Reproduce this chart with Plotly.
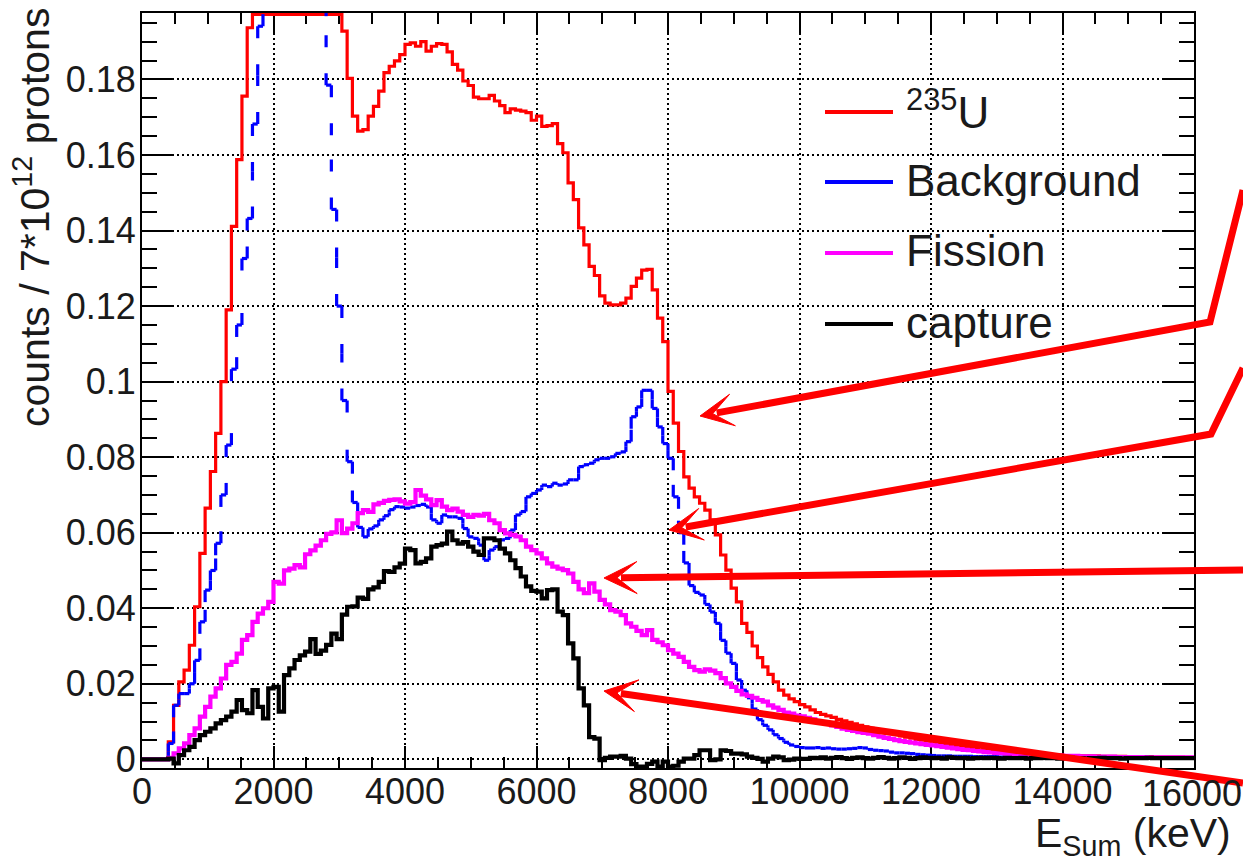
import numpy as np
import plotly.graph_objects as go

# ---------------- data (80 keV bins, 0 - 16000 keV) ----------------
BIN_WIDTH = 80
E_MIN, E_MAX = 0, 16000
Y_MIN, Y_MAX = -0.0023, 0.1976
CLIP_TOP = 0.1972      # bins drawn along the frame top (value beyond range)
OFF_TOP = 0.21         # bins beyond the frame (not visible)
C = CLIP_TOP
H = OFF_TOP

u235 = [
    0, 0, 0, 0, 0, 0.0046, 0.0143, 0.0205, 0.0236, 0.0302,
    0.0404, 0.0545, 0.0665, 0.0762, 0.0863, 0.1000, 0.1190, 0.1411, 0.1588, 0.1756,
    0.1937, C, C, C, C, C, C, C, C, C,
    C, C, C, C, C, C, C, C, 0.1928, 0.1803,
    0.1703, 0.1663, 0.1667, 0.1703, 0.1729, 0.1769, 0.1818, 0.1835, 0.1849, 0.1866,
    0.1893, 0.1897, 0.1888, 0.1900, 0.1875, 0.1888, 0.1895, 0.1893, 0.1873, 0.1840,
    0.1825, 0.1796, 0.1784, 0.1753, 0.1749, 0.1749, 0.1758, 0.1743, 0.1731, 0.1712,
    0.1722, 0.1719, 0.1716, 0.1712, 0.1692, 0.1703, 0.1676, 0.1678, 0.1683, 0.1630,
    0.1606, 0.1526, 0.1482, 0.1407, 0.1362, 0.1305, 0.1281, 0.1227, 0.1208, 0.1203,
    0.1203, 0.1208, 0.1221, 0.1252, 0.1274, 0.1295, 0.1297, 0.1243, 0.1168, 0.1106,
    0.0974, 0.0890, 0.0815, 0.0748, 0.0718, 0.0695, 0.0678, 0.0660, 0.0634, 0.0594,
    0.0541, 0.0501, 0.0453, 0.0417, 0.0360, 0.0336, 0.0300, 0.0269, 0.0245, 0.0225,
    0.0205, 0.0183, 0.0170, 0.0160, 0.0153, 0.0145, 0.0139, 0.0131, 0.0124, 0.0119,
    0.0115, 0.0111, 0.0106, 0.0102, 0.0098, 0.0094, 0.0090, 0.0086, 0.0082, 0.0079,
    0.0075, 0.0072, 0.0069, 0.0066, 0.0062, 0.0059, 0.0056, 0.0053, 0.0051, 0.0048,
    0.0046, 0.0044, 0.0041, 0.0039, 0.0036, 0.0034, 0.0031, 0.0029, 0.0027, 0.0024,
    0.0023, 0.0021, 0.0019, 0.0017, 0.0017, 0.0016, 0.0015, 0.0015, 0.0014, 0.0013,
    0.0013, 0.0012, 0.0012, 0.0011, 0.0011, 0.0010, 0.0010, 0.0010, 0.0009, 0.0009,
    0.0009, 0.0009, 0.0008, 0.0008, 0.0008, 0.0008, 0.0008, 0.0007, 0.0007, 0.0007,
    0.0007, 0.0007, 0.0006, 0.0006, 0.0006, 0.0006, 0.0006, 0.0006, 0.0005, 0.0005,
]

background = [
    0, 0, 0, 0, 0, 0.0042, 0.0143, 0.0174, 0.0174, 0.0200,
    0.0262, 0.0364, 0.0448, 0.0500, 0.0572, 0.0700, 0.0832, 0.1033, 0.1150, 0.1326,
    0.1432, 0.1682, 0.1941, H, H, H, H, H, H, H,
    H, H, H, H, H, 0.1785, 0.1456, 0.1200, 0.0950, 0.0788,
    0.0680, 0.0614, 0.0589, 0.0610, 0.0618, 0.0634, 0.0645, 0.0661, 0.0669, 0.0668,
    0.0665, 0.0668, 0.0672, 0.0675, 0.0668, 0.0634, 0.0625, 0.0647, 0.0642, 0.0642,
    0.0638, 0.0611, 0.0589, 0.0585, 0.0567, 0.0527, 0.0554, 0.0563, 0.0581, 0.0585,
    0.0607, 0.0647, 0.0656, 0.0695, 0.0704, 0.0713, 0.0726, 0.0722, 0.0731, 0.0726,
    0.0729, 0.0740, 0.0740, 0.0775, 0.0780, 0.0784, 0.0793, 0.0797, 0.0797, 0.0801,
    0.0810, 0.0814, 0.0841, 0.0907, 0.0933, 0.0977, 0.0977, 0.0929, 0.0880, 0.0836,
    0.0797, 0.0695, 0.0600, 0.0520, 0.0460, 0.0442, 0.0435, 0.0410, 0.0390, 0.0360,
    0.0315, 0.0281, 0.0254, 0.0210, 0.0183, 0.0163, 0.0133, 0.0105, 0.0090, 0.0078,
    0.0065, 0.0055, 0.0045, 0.0038, 0.0034, 0.0031, 0.0030, 0.0030, 0.0031, 0.0029,
    0.0030, 0.0028, 0.0027, 0.0027, 0.0028, 0.0029, 0.0031, 0.0030, 0.0026, 0.0024,
    0.0023, 0.0022, 0.0019, 0.0017, 0.0017, 0.0016, 0.0015, 0.0013, 0.0012, 0.0011,
    0.0010, 0.0009, 0.0009, 0.0009, 0.0008, 0.0008, 0.0008, 0.0008, 0.0007, 0.0007,
    0.0007, 0.0007, 0.0007, 0.0006, 0.0006, 0.0006, 0.0006, 0.0006, 0.0006, 0.0006,
    0.0005, 0.0005, 0.0005, 0.0005, 0.0005, 0.0005, 0.0005, 0.0005, 0.0005, 0.0005,
    0.0005, 0.0005, 0.0005, 0.0005, 0.0005, 0.0004, 0.0004, 0.0004, 0.0004, 0.0004,
    0.0004, 0.0004, 0.0004, 0.0004, 0.0004, 0.0004, 0.0004, 0.0004, 0.0004, 0.0004,
]

fission = [
    0, 0, 0, 0, 0, 0.0004, 0.0016, 0.0029, 0.0042, 0.0064,
    0.0082, 0.0113, 0.0139, 0.0166, 0.0188, 0.0214, 0.0250, 0.0258, 0.0280, 0.0316,
    0.0329, 0.0364, 0.0386, 0.0400, 0.0417, 0.0470, 0.0465, 0.0500, 0.0505, 0.0514,
    0.0508, 0.0543, 0.0553, 0.0566, 0.0580, 0.0597, 0.0601, 0.0633, 0.0599, 0.0611,
    0.0625, 0.0652, 0.0660, 0.0655, 0.0675, 0.0679, 0.0684, 0.0687, 0.0688, 0.0683,
    0.0677, 0.0681, 0.0713, 0.0698, 0.0688, 0.0673, 0.0686, 0.0669, 0.0660, 0.0664,
    0.0656, 0.0647, 0.0642, 0.0647, 0.0645, 0.0650, 0.0633, 0.0625, 0.0607, 0.0598,
    0.0594, 0.0590, 0.0580, 0.0563, 0.0554, 0.0545, 0.0532, 0.0519, 0.0510, 0.0505,
    0.0501, 0.0492, 0.0470, 0.0450, 0.0440, 0.0466, 0.0444, 0.0422, 0.0410, 0.0395,
    0.0391, 0.0382, 0.0360, 0.0351, 0.0340, 0.0329, 0.0342, 0.0316, 0.0310, 0.0302,
    0.0289, 0.0280, 0.0271, 0.0258, 0.0245, 0.0236, 0.0232, 0.0238, 0.0235, 0.0228,
    0.0215, 0.0201, 0.0192, 0.0181, 0.0172, 0.0168, 0.0163, 0.0157, 0.0153, 0.0143,
    0.0137, 0.0131, 0.0124, 0.0121, 0.0116, 0.0114, 0.0110, 0.0106, 0.0101, 0.0097,
    0.0094, 0.0090, 0.0086, 0.0081, 0.0078, 0.0075, 0.0072, 0.0070, 0.0068, 0.0064,
    0.0060, 0.0057, 0.0054, 0.0051, 0.0048, 0.0046, 0.0044, 0.0042, 0.0040, 0.0038,
    0.0037, 0.0035, 0.0033, 0.0031, 0.0029, 0.0027, 0.0025, 0.0024, 0.0022, 0.0021,
    0.0019, 0.0018, 0.0017, 0.0016, 0.0015, 0.0014, 0.0013, 0.0013, 0.0012, 0.0012,
    0.0011, 0.0011, 0.0010, 0.0010, 0.0010, 0.0009, 0.0009, 0.0009, 0.0008, 0.0008,
    0.0008, 0.0007, 0.0007, 0.0007, 0.0007, 0.0006, 0.0006, 0.0006, 0.0006, 0.0006,
    0.0006, 0.0005, 0.0005, 0.0005, 0.0005, 0.0005, 0.0005, 0.0005, 0.0005, 0.0005,
]

capture = [
    0, 0, 0, 0, 0, 0.0002, -0.0011, 0.0011, 0.0024, 0.0033,
    0.0051, 0.0064, 0.0073, 0.0082, 0.0095, 0.0104, 0.0113, 0.0126, 0.0157, 0.0130,
    0.0122, 0.0183, 0.0139, 0.0108, 0.0188, 0.0192, 0.0126, 0.0223, 0.0241, 0.0263,
    0.0275, 0.0285, 0.0318, 0.0279, 0.0288, 0.0303, 0.0333, 0.0318, 0.0383, 0.0404,
    0.0405, 0.0428, 0.0425, 0.0450, 0.0455, 0.0470, 0.0498, 0.0496, 0.0508, 0.0518,
    0.0558, 0.0554, 0.0519, 0.0523, 0.0532, 0.0563, 0.0567, 0.0571, 0.0603, 0.0580,
    0.0571, 0.0575, 0.0563, 0.0550, 0.0541, 0.0585, 0.0585, 0.0580, 0.0558, 0.0545,
    0.0527, 0.0506, 0.0484, 0.0458, 0.0446, 0.0444, 0.0426, 0.0448, 0.0450, 0.0391,
    0.0382, 0.0307, 0.0267, 0.0188, 0.0143, 0.0059, 0.0055, -0.0002, 0.0004, 0.0007,
    0.0007, 0.0009, 0.0002, -0.0013, -0.0019, -0.0019, -0.0012, -0.0006, -0.0019, -0.0006,
    -0.0019, -0.0017, -0.0006, 0.0002, 0.0002, 0.0011, 0.0024, 0.0024, -0.0002, 0.0000,
    0.0024, 0.0022, 0.0015, 0.0015, 0.0013, 0.0007, 0.0004, 0.0001, -0.0006, 0.0002,
    0.0007, 0.0005, -0.0002, -0.0001, 0.0002, 0.0001, 0.0001, 0.0004, 0.0003, 0.0005,
    0.0002, 0.0004, 0.0006, 0.0003, 0.0001, 0.0004, 0.0005, 0.0003, 0.0002, 0.0004,
    0.0006, 0.0004, 0.0002, 0.0003, 0.0005, 0.0004, 0.0001, 0.0003, 0.0005, 0.0004,
    0.0003, 0.0004, 0.0002, 0.0005, 0.0004, 0.0003, 0.0004, 0.0002, 0.0003, 0.0004,
    0.0003, 0.0004, 0.0003, 0.0002, 0.0004, 0.0003, 0.0003, 0.0004, 0.0002, 0.0003,
    0.0003, 0.0004, 0.0003, 0.0003, 0.0002, 0.0003, 0.0004, 0.0003, 0.0003, 0.0002,
    0.0003, 0.0003, 0.0004, 0.0003, 0.0003, 0.0003, 0.0002, 0.0003, 0.0003, 0.0003,
    0.0003, 0.0004, 0.0003, 0.0003, 0.0003, 0.0003, 0.0003, 0.0003, 0.0003, 0.0003,
]

series_names = ["<sup>235</sup>U", "Background", "Fission", "capture"]
series_colors = ["#ff0000", "#0000ff", "#ff00ff", "#000000"]
series_widths = [3.2, 3.2, 4.2, 4.2]

# tick labels (the last one, at the figure edge, is drawn as a separate text)
x_tickvals = [0, 2000, 4000, 6000, 8000, 10000, 12000, 14000]
x_ticktext = ["0", "2000", "4000", "6000", "8000", "10000", "12000", "14000"]
x_last_tick = (16000, "16000")
y_tickvals = [0, 0.02, 0.04, 0.06, 0.08, 0.10, 0.12, 0.14, 0.16, 0.18]
y_ticktext = ["0", "0.02", "0.04", "0.06", "0.08", "0.1", "0.12", "0.14", "0.16", "0.18"]

x_title = "E<sub>Sum</sub> (keV)"
y_title = "counts / 7*10<sup>12</sup> protons"

for s in (u235, background, fission, capture):
    assert len(s) == 200, len(s)

edges = np.arange(E_MIN, E_MAX + BIN_WIDTH, BIN_WIDTH)

# ---------------- layout geometry (pixels) ----------------
W, HGT = 1243, 865
PL, PR, PT, PB = 142, 1194, 13, 768
FONT = "Liberation Sans, Arial, Helvetica, sans-serif"
TXT = "#1a1a1a"
TICK_SIZE = 36


def px_x(px):
    return (px - PL) / (PR - PL)


def px_y(py):
    return (PB - py) / (PB - PT)


fig = go.Figure()


def step_trace(vals, color, width):
    ys = list(vals) + [vals[-1]]
    return go.Scatter(x=edges, y=ys, mode="lines", line=dict(color=color, width=width, shape="hv"),
                      hoverinfo="skip", showlegend=False)


def dashed_step_xy(vals):
    """Histogram outline as separate sub-paths (so the dash restarts at each one)."""
    xs, ys = [], []
    n = len(vals)
    for i in range(n):
        xs += [edges[i], edges[i + 1], None]
        ys += [vals[i], vals[i], None]
        if i + 1 < n and vals[i + 1] != vals[i]:
            mid = 0.5 * (vals[i] + vals[i + 1])
            xs += [edges[i + 1], edges[i + 1], None, edges[i + 1], edges[i + 1], None]
            ys += [vals[i], mid, None, vals[i + 1], mid, None]
    return xs, ys


fig.add_trace(step_trace(u235, series_colors[0], series_widths[0]))
bx, by = dashed_step_xy(background)
fig.add_trace(go.Scatter(x=bx, y=by, mode="lines", connectgaps=False,
                         line=dict(color=series_colors[1], width=series_widths[1], dash="12px,26px"),
                         hoverinfo="skip", showlegend=False))
fig.add_trace(step_trace(fission, series_colors[2], series_widths[2]))
fig.add_trace(step_trace(capture, series_colors[3], series_widths[3]))

axis_common = dict(
    showline=True, linecolor="black", linewidth=2, mirror="ticks",
    ticks="inside", tickcolor="black", tickwidth=2,
    showgrid=True, gridcolor="black", gridwidth=1.6, griddash="2px,3px",
    zeroline=False, layer="below traces",
)

fig.update_xaxes(range=[E_MIN, E_MAX], tickmode="array", tickvals=x_tickvals, ticktext=x_ticktext,
                 ticklen=22, ticklabelstandoff=-9,
                 tickfont=dict(family=FONT, size=TICK_SIZE, color=TXT),
                 minor=dict(dtick=500, tick0=0, ticks="inside", ticklen=11, tickwidth=2,
                            tickcolor="black", showgrid=False),
                 **axis_common)
fig.update_yaxes(range=[Y_MIN, Y_MAX], tickmode="array", tickvals=y_tickvals, ticktext=y_ticktext,
                 ticklen=30, ticklabelstandoff=-3,
                 tickfont=dict(family=FONT, size=TICK_SIZE, color=TXT),
                 minor=dict(dtick=0.005, tick0=0, ticks="inside", ticklen=15, tickwidth=2,
                            tickcolor="black", showgrid=False),
                 **axis_common)

# last x tick label sits on the figure edge -> keep it inside the page
fig.add_annotation(text=x_last_tick[1], xref="paper", yref="paper", x=px_x(1243), y=px_y(793),
                   xanchor="right", yanchor="middle", showarrow=False, borderpad=0,
                   font=dict(family=FONT, size=TICK_SIZE, color=TXT))

# axis titles (ROOT style: aligned to the axis ends)
fig.add_annotation(text=x_title, xref="paper", yref="paper", x=px_x(1233), y=px_y(836),
                   xanchor="right", yanchor="middle", showarrow=False,
                   font=dict(family=FONT, size=41, color=TXT))
fig.add_annotation(text=y_title, xref="paper", yref="paper", x=px_x(32), y=px_y(218),
                   xanchor="center", yanchor="middle", textangle=-90, showarrow=False,
                   font=dict(family=FONT, size=41, color=TXT))

# legend (line samples + labels)
legend_y = [112, 182, 253, 324]
for name, color, ly in zip(series_names, series_colors, legend_y):
    fig.add_shape(type="line", xref="paper", yref="paper", x0=px_x(825), x1=px_x(893),
                  y0=px_y(ly), y1=px_y(ly), line=dict(color=color, width=4))
    fig.add_annotation(text=name, xref="paper", yref="paper", x=px_x(904), y=px_y(ly - 2),
                       xanchor="left", yanchor="middle", showarrow=False,
                       font=dict(family=FONT, size=44, color=TXT))

# red pointer arrows drawn over the figure (lines + notched heads, as shapes)
RED = "#ff0000"
AW = 7
HEAD_LEN, HEAD_HALF, NOTCH = 33, 16, 13
arrows = [
    # points in px, from the far (figure-edge) end to the tip
    [(1243, 190), (1210, 322), (700, 416)],
    [(1243, 368), (1211, 434), (669, 530)],
    [(1243, 570), (604, 578)],
    [(1243, 783), (604, 691)],
]


def ppath(points, close=False):
    s = "M " + " L ".join("{:.5f},{:.5f}".format(px_x(x), px_y(y)) for x, y in points)
    return s + (" Z" if close else "")


for pts in arrows:
    tip = np.array(pts[-1], dtype=float)
    prev = np.array(pts[-2], dtype=float)
    u = (prev - tip) / np.hypot(*(prev - tip))
    nrm = np.array([-u[1], u[0]])
    notch = tip + NOTCH * u
    b1 = tip + HEAD_LEN * u + HEAD_HALF * nrm
    b2 = tip + HEAD_LEN * u - HEAD_HALF * nrm
    line_pts = [tuple(p) for p in pts[:-1]] + [tuple(tip + (NOTCH + 4) * u)]
    fig.add_shape(type="path", xref="paper", yref="paper", path=ppath(line_pts),
                  line=dict(color=RED, width=AW), layer="above")
    fig.add_shape(type="path", xref="paper", yref="paper",
                  path=ppath([tuple(tip), tuple(b1), tuple(notch), tuple(b2)], close=True),
                  line=dict(color=RED, width=1), fillcolor=RED, layer="above")

fig.update_layout(
    width=W, height=HGT, autosize=False,
    margin=dict(l=PL, r=W - PR, t=PT, b=HGT - PB, pad=0),
    plot_bgcolor="white", paper_bgcolor="white",
    showlegend=False,
    font=dict(family=FONT, color=TXT),
)

fig.write_html("out.html")
